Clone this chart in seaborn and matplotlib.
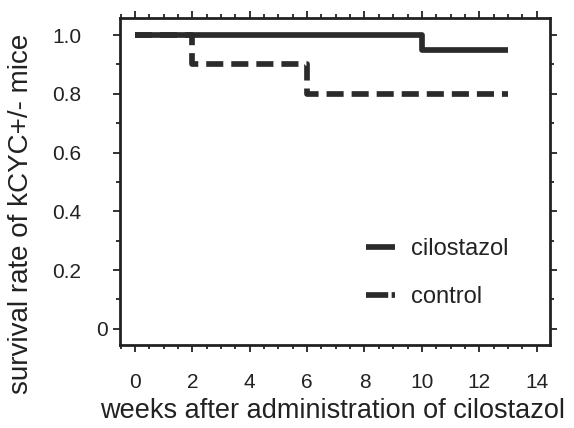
import matplotlib
matplotlib.use("Agg")
import matplotlib.pyplot as plt
import matplotlib.transforms as mtransforms
from matplotlib.ticker import MultipleLocator
from matplotlib.lines import Line2D
import seaborn as sns
import pandas as pd

# ---- data ----
cil_weeks = [0, 10, 13]
cil_surv = [1.0, 0.95, 0.95]
ctl_weeks = [0, 2, 6, 13]
ctl_surv = [1.0, 0.9, 0.8, 0.8]
groups = ["cilostazol", "control"]
x_ticks = [0, 2, 4, 6, 8, 10, 12, 14]
y_ticks = [0, 0.2, 0.4, 0.6, 0.8, 1.0]
y_ticklabels = ["0", "0.2", "0.4", "0.6", "0.8", "1.0"]

df = pd.DataFrame({
    "week": cil_weeks + ctl_weeks,
    "survival": cil_surv + ctl_surv,
    "group": [groups[0]] * len(cil_weeks) + [groups[1]] * len(ctl_weeks),
})

sns.set_style("ticks")
plt.rcParams["font.family"] = ["Liberation Sans", "DejaVu Sans"]

fig = plt.figure(figsize=(5.74, 4.28), dpi=100)
ax = fig.add_axes([0.209, 0.194, 0.749, 0.764])

col = "#2b2b2b"
lw = 4.1
dash = (3.0, 1.4)
sns.lineplot(data=df, x="week", y="survival", hue="group", style="group",
             hue_order=groups[::-1], style_order=groups[::-1],
             palette={groups[0]: col, groups[1]: col},
             dashes={groups[0]: "", groups[1]: dash},
             drawstyle="steps-post", linewidth=lw, ax=ax, legend=False,
             estimator=None)

for ln in ax.get_lines():
    ln.set_solid_capstyle("butt")
    ln.set_dash_capstyle("butt")

handles = [Line2D([], [], color=col, lw=lw, solid_capstyle="butt"),
           Line2D([], [], color=col, lw=lw, dashes=(3.9, 0.6, 0.9, 2), dash_capstyle="butt")]
leg = ax.legend(handles, groups, loc="center left", bbox_to_anchor=(0.572, 0.22),
                frameon=False, fontsize=17, handlelength=1.25, handletextpad=0.64,
                labelspacing=1.1, borderpad=0, borderaxespad=0)
for t in leg.get_texts():
    t.set_color("#222222")

ax.set_xlim(-0.52, 14.46)
ax.set_ylim(-0.055, 1.058)
ax.set_xticks(x_ticks)
ax.set_yticks(y_ticks)
ax.set_yticklabels(y_ticklabels)
ax.xaxis.set_minor_locator(MultipleLocator(0.5))
ax.yaxis.set_minor_locator(MultipleLocator(0.1))
ax.tick_params(which="both", direction="out", top=True, right=True,
               labeltop=False, labelright=False, colors="#222222", width=1.3)
ax.tick_params(which="major", length=5, labelsize=15)
ax.tick_params(which="minor", length=3)
ax.tick_params(axis="x", which="major", pad=15)
ax.tick_params(axis="y", which="major", pad=23)
for s in ax.spines.values():
    s.set_linewidth(2)
    s.set_color("#222222")

# shift the "0" y tick label closer to the axis
lbl0 = ax.get_yticklabels()[0]
lbl0.set_transform(lbl0.get_transform() +
                   mtransforms.ScaledTranslation(27 / 100, 0, fig.dpi_scale_trans))

ax.set_xlabel("weeks after administration of cilostazol", fontsize=19.5, color="#222222")
ax.set_ylabel("survival rate of kCYC+/- mice", fontsize=20, color="#222222")
ax.yaxis.set_label_coords(-0.2, 0.40)
ax.xaxis.set_label_coords(0.495, -0.163)

fig.savefig("out.png", dpi=100)
